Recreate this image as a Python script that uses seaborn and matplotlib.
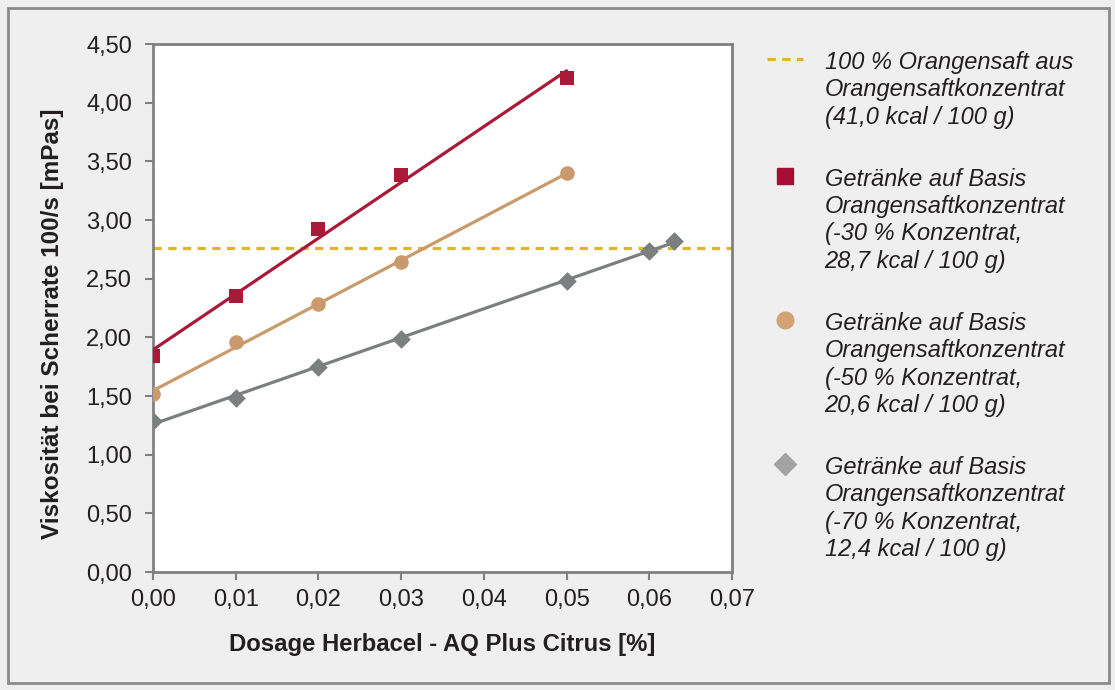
import matplotlib
matplotlib.use("Agg")
import matplotlib.pyplot as plt
import seaborn as sns
import pandas as pd
from matplotlib.lines import Line2D
from matplotlib.patches import Rectangle

# data
dosage_30 = [0.00, 0.01, 0.02, 0.03, 0.05]
visc_30 = [1.84, 2.35, 2.92, 3.38, 4.21]
dosage_50 = [0.00, 0.01, 0.02, 0.03, 0.05]
visc_50 = [1.52, 1.96, 2.28, 2.64, 3.40]
dosage_70 = [0.00, 0.01, 0.02, 0.03, 0.05, 0.06, 0.063]
visc_70 = [1.29, 1.48, 1.75, 1.99, 2.48, 2.74, 2.82]
visc_reference = 2.76

xticks = [0.00, 0.01, 0.02, 0.03, 0.04, 0.05, 0.06, 0.07]
xtick_labels = ["0,00", "0,01", "0,02", "0,03", "0,04", "0,05", "0,06", "0,07"]
yticks = [0.0, 0.5, 1.0, 1.5, 2.0, 2.5, 3.0, 3.5, 4.0, 4.5]
ytick_labels = ["0,00", "0,50", "1,00", "1,50", "2,00", "2,50", "3,00", "3,50", "4,00", "4,50"]

legend_labels = [
    "100 % Orangensaft aus\nOrangensaftkonzentrat\n(41,0 kcal / 100 g)",
    "Getränke auf Basis\nOrangensaftkonzentrat\n(-30 % Konzentrat,\n28,7 kcal / 100 g)",
    "Getränke auf Basis\nOrangensaftkonzentrat\n(-50 % Konzentrat,\n20,6 kcal / 100 g)",
    "Getränke auf Basis\nOrangensaftkonzentrat\n(-70 % Konzentrat,\n12,4 kcal / 100 g)",
]

df30 = pd.DataFrame({"x": dosage_30, "y": visc_30})
df50 = pd.DataFrame({"x": dosage_50, "y": visc_50})
df70 = pd.DataFrame({"x": dosage_70, "y": visc_70})

sns.set_style("white")
plt.rcParams["font.family"] = ["Liberation Sans", "DejaVu Sans"]

red = "#a81a38"
tan = "#c99a6b"
grey = "#7b7f80"
yellow = "#e0b52a"
bg = "#efefef"
txt = "#231f20"

fig = plt.figure(figsize=(11.15, 6.9), dpi=100, facecolor=bg)
fig.patches.append(Rectangle((0.007, 0.01), 0.988, 0.978, transform=fig.transFigure,
                             fill=False, edgecolor="#8a8a8a", linewidth=2))
ax = fig.add_axes([0.1372, 0.1710, 0.5193, 0.7652])
ax.set_facecolor("white")

ax.axhline(visc_reference, color=yellow, linewidth=2.3, dashes=(2.6, 2.0), zorder=1)

sns.regplot(data=df70, x="x", y="y", ax=ax, ci=None, color=grey, marker="D",
            scatter_kws={"s": 90, "linewidths": 0, "alpha": 1, "zorder": 3},
            line_kws={"linewidth": 2.3, "zorder": 2})
sns.regplot(data=df50, x="x", y="y", ax=ax, ci=None, color=tan, marker="o",
            scatter_kws={"s": 110, "linewidths": 0, "alpha": 1, "zorder": 3},
            line_kws={"linewidth": 2.3, "zorder": 2})
sns.regplot(data=df30, x="x", y="y", ax=ax, ci=None, color=red, marker="s",
            scatter_kws={"s": 95, "linewidths": 0, "alpha": 1, "zorder": 3},
            line_kws={"linewidth": 2.3, "zorder": 4})

ax.set_xlim(0, 0.07)
ax.set_ylim(0, 4.5)
ax.set_xticks(xticks)
ax.set_xticklabels(xtick_labels)
ax.set_yticks(yticks)
ax.set_yticklabels(ytick_labels)
ax.tick_params(axis="both", direction="out", length=6, width=1.5, color="#808080",
               labelsize=17, labelcolor=txt, left=True, bottom=True)
ax.tick_params(axis="y", pad=9)
ax.tick_params(axis="x", pad=6)
for s in ax.spines.values():
    s.set_color("#808080")
    s.set_linewidth(2)

ax.set_xlabel("Dosage Herbacel - AQ Plus Citrus [%]", fontsize=17.2, fontweight="bold",
              color=txt, labelpad=16)
ax.set_ylabel("Viskosität bei Scherrate 100/s [mPas]", fontsize=17.5, fontweight="bold",
              color=txt)
ax.yaxis.set_label_coords(-0.153, 0.47)

handles = [
    Line2D([], [], color=yellow, linewidth=2.3, dashes=(2.6, 2.0)),
    Line2D([], [], color="#a50d35", marker="s", linestyle="none", markersize=11),
    Line2D([], [], color="#d4a373", marker="o", linestyle="none", markersize=12),
    Line2D([], [], color="#a3a3a3", marker="D", linestyle="none", markersize=11),
]
leg = fig.legend(handles, legend_labels, loc="upper left", bbox_to_anchor=(0.669, 0.957),
                 frameon=False, handlelength=1.5, handletextpad=0.93, labelspacing=1.66,
                 prop={"size": 17, "style": "italic"})
for t in leg.get_texts():
    t.set_color(txt)
    t.set_linespacing(1.24)
for col in leg._legend_handle_box.get_children():
    for item in col.get_children():
        item.align = "top"

fig.savefig("out.png", dpi=100, facecolor=bg)
